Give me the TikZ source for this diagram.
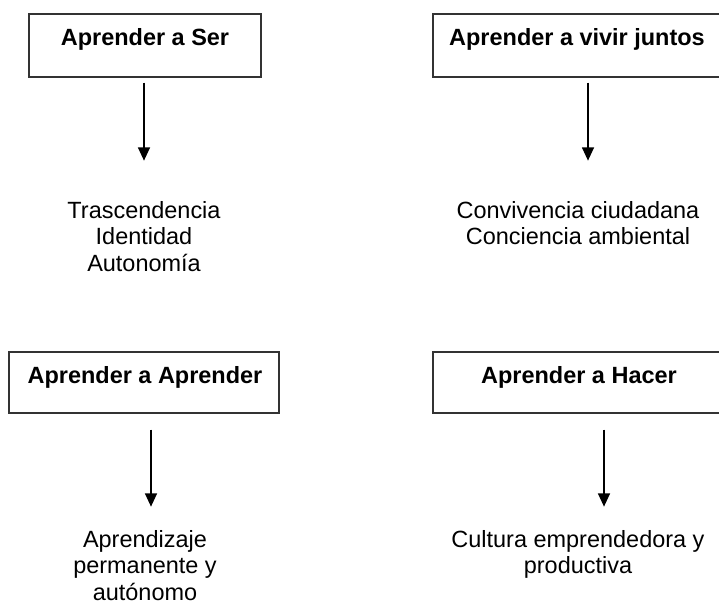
\documentclass[tikz,border=0pt]{standalone}
\usepackage{fontspec}
\setmainfont{Liberation Sans}
\usetikzlibrary{arrows.meta,calc}
\tikzset{
  box/.style={draw=black!80, line width=1pt, rectangle, inner sep=0pt},
  title/.style={anchor=base, inner sep=0pt, font=\fontsize{17.6pt}{20pt}\selectfont\bfseries},
  body/.style={anchor=north, inner sep=0pt, align=center, font=\fontsize{17.6pt}{20pt}\selectfont},
  arr/.style={line width=1.1pt, -{Triangle[width=9pt,length=10pt]}}
}
\begin{document}
\begin{tikzpicture}[x=0.75pt,y=-0.75pt]
\clip (0,0) rectangle (719,609);
\fill[white] (0,0) rectangle (719,609);
% boxes
\node[box, minimum width=174pt, minimum height=47.25pt] (b1) at (145,45.5) {};
\node[box, minimum width=219pt, minimum height=47.25pt] (b2) at (579,45.5) {};
\node[box, minimum width=202.5pt, minimum height=45.75pt] (b3) at (144,382.5) {};
\node[box, minimum width=219pt, minimum height=45.75pt] (b4) at (579,382.5) {};
% titles
\node[title] (h1) at (145,46) {Aprender a Ser};
\node[title] (h2) at (577,46) {Aprender a vivir juntos};
\node[title] (h3) at (145,384) {Aprender a Aprender};
\node[title] (h4) at (579,384) {Aprender a Hacer};
% bodies
\node[body] (t1) at (144,201) {Trascendencia\\Identidad\\Autonomía};
\node[body] (t2) at (578,201) {Convivencia ciudadana\\Conciencia ambiental};
\node[body] (t3) at (145,530) {Aprendizaje\\permanente y\\autónomo};
\node[body] (t4) at (578,530) {Cultura emprendedora y\\productiva};
% arrows
\draw[arr] ($(b1.south)+(-1,5)$) -- ($(b1.south)+(-1,83)$);
\draw[arr] ($(b2.south)+(9,5)$) -- ($(b2.south)+(9,83)$);
\draw[arr] ($(b3.south)+(7,16)$) -- ($(b3.south)+(7,93)$);
\draw[arr] ($(b4.south)+(25,16)$) -- ($(b4.south)+(25,93)$);
\end{tikzpicture}
\end{document}
